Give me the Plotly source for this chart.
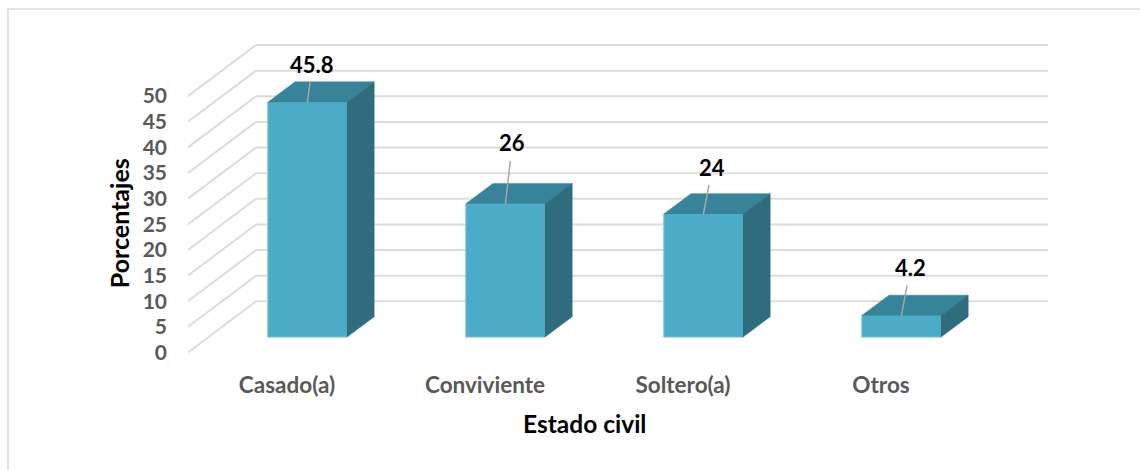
import plotly.graph_objects as go

categories = ["Casado(a)", "Conviviente", "Soltero(a)", "Otros"]
values = [45.8, 26, 24, 4.2]
y_ticks = [0, 5, 10, 15, 20, 25, 30, 35, 40, 45, 50]

# pseudo-3D projection, expressed in axis units
DEPTH_X = 0.3434
DEPTH_Y = 9.96
BAR_W = 0.4
D0, D1 = 0.3, 0.7
label_pull = [(5, -38), (7, -61), (9, -47), (9, -48)]


def proj(x, v, d):
    return x + d * DEPTH_X, v + d * DEPTH_Y


FRONT, TOP, SIDE = "#4AACC6", "#378399", "#2F6D7E"
GRID = "#DCDCDC"
TXT = "#595959"
FONT = "Lato"

PX_Y = 5.12
PX_X = 198.0
plot_l, plot_r = 188, 1048
plot_t, plot_b = 40, 354.56
x_range = [-0.5, -0.5 + (plot_r - plot_l) / PX_X]
y_range = [(352 - plot_b) / PX_Y, (352 - plot_t) / PX_Y]


def paper_x(px):
    return (px - plot_l) / (plot_r - plot_l)


def paper_y(px):
    return (plot_b - px) / (plot_b - plot_t)


fig = go.Figure()

shapes = []
for t in y_ticks:
    x0, y0 = proj(x_range[0], t, 0)
    x1, y1 = proj(x_range[0], t, 1)
    shapes.append(dict(type="line", xref="x", yref="y", x0=x0, y0=y0, x1=x1, y1=y1,
                       layer="below", line=dict(color=GRID, width=2)))
    shapes.append(dict(type="line", xref="x", yref="y", x0=x1, y0=y1, x1=x_range[1], y1=y1,
                       layer="below", line=dict(color=GRID, width=2)))
# outer chart frame
shapes += [
    dict(type="line", xref="paper", yref="paper", x0=paper_x(8), x1=paper_x(8),
         y0=paper_y(470), y1=paper_y(8), layer="below", line=dict(color="#E2E2E2", width=2)),
    dict(type="line", xref="paper", yref="paper", x0=paper_x(8), x1=paper_x(1140),
         y0=paper_y(9), y1=paper_y(9), layer="below", line=dict(color="#E2E2E2", width=2)),
]

fx, fbase = proj(0, 0, D0)
fig.add_trace(go.Bar(
    x=[i + fx for i in range(len(values))], y=values, base=fbase, width=BAR_W,
    marker=dict(color=FRONT, line=dict(color="#7FC6DA", width=1)), hoverinfo="skip", showlegend=False,
))

for i, v in enumerate(values):
    l, r = i - BAR_W / 2, i + BAR_W / 2
    top = [proj(l, v, D0), proj(r, v, D0), proj(r, v, D1), proj(l, v, D1), proj(l, v, D0)]
    side = [proj(r, 0, D0), proj(r, v, D0), proj(r, v, D1), proj(r, 0, D1), proj(r, 0, D0)]
    for poly, col in ((top, TOP), (side, SIDE)):
        fig.add_trace(go.Scatter(
            x=[p[0] for p in poly], y=[p[1] for p in poly], mode="lines", fill="toself",
            fillcolor=col, line=dict(color=col, width=0.5), hoverinfo="skip", showlegend=False,
        ))

annotations = []
for i, v in enumerate(values):
    ax_, ay_ = proj(i, v, D0)
    annotations.append(dict(
        x=ax_, y=ay_, xref="x", yref="y", text=f"<b>{v}</b>", showarrow=True,
        arrowhead=0, arrowwidth=1.5, arrowcolor="#A6A6A6", ax=label_pull[i][0], ay=label_pull[i][1],
        startstandoff=3, font=dict(family=FONT, size=22, color="#000000"),
    ))
annotations.append(dict(
    x=paper_x(584.5), y=paper_y(423), xref="paper", yref="paper", text="<b>Estado civil</b>",
    showarrow=False, xanchor="center", yanchor="middle", font=dict(family=FONT, size=24.5, color="#000000"),
))
annotations.append(dict(
    x=paper_x(119), y=paper_y(223), xref="paper", yref="paper", text="<b>Porcentajes</b>", textangle=-90,
    showarrow=False, xanchor="center", yanchor="middle", font=dict(family=FONT, size=25, color="#000000"),
))

fig.update_layout(
    width=1140, height=470, autosize=False, plot_bgcolor="white", paper_bgcolor="white",
    margin=dict(l=plot_l, r=1140 - plot_r, t=plot_t, b=470 - plot_b, pad=0),
    font=dict(family=FONT), showlegend=False, shapes=shapes, annotations=annotations,
    xaxis=dict(range=x_range, tickmode="array", tickvals=list(range(len(categories))), ticktext=categories,
               showgrid=False, zeroline=False, showline=False, ticks="", ticklabelstandoff=14,
               tickfont=dict(family=FONT, size=22.5, color=TXT, weight="bold")),
    yaxis=dict(range=y_range, tickmode="array", tickvals=y_ticks, showgrid=False, zeroline=False, showline=False,
               ticks="", ticklabelstandoff=20, tickfont=dict(family=FONT, size=21, color=TXT, weight="bold")),
)

fig.write_html("out.html", post_script="document.body.style.margin='0';", config=dict(displayModeBar=False))
